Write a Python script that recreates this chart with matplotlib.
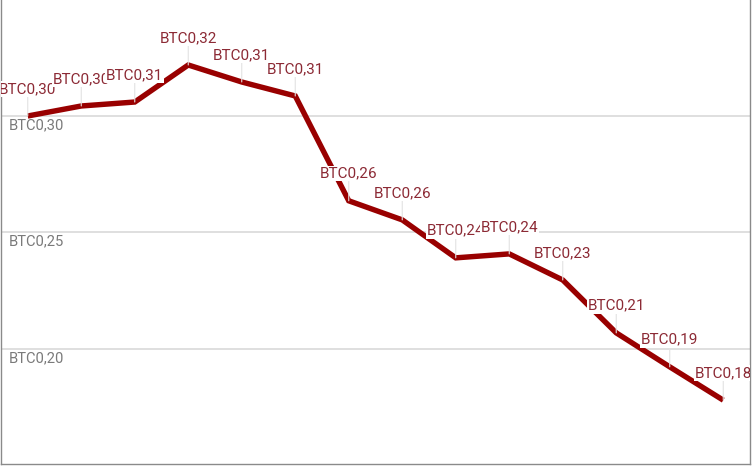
import matplotlib
matplotlib.use("Agg")
import matplotlib.pyplot as plt

# values (BTC)
points = list(range(14))
btc_values = [0.300, 0.3043, 0.306, 0.3219, 0.3146, 0.3086, 0.2636,
              0.2554, 0.2391, 0.2408, 0.2296, 0.2069, 0.1923, 0.178]
y_ticks = [0.20, 0.25, 0.30]


def btc_fmt(v):
    return "BTC" + f"{v:.2f}".replace(".", ",")


plt.rcParams["font.family"] = ["Roboto", "DejaVu Sans"]

fig = plt.figure(figsize=(7.54, 4.66), dpi=100)
ax = fig.add_axes([1 / 754, 2 / 466, 749 / 754, 464 / 466])

ax.plot(points, btc_values, color="#990000", lw=3.9, solid_capstyle="butt",
        solid_joinstyle="miter", zorder=3)

for x, v in zip(points, btc_values):
    ax.annotate(btc_fmt(v), xy=(x, v), xytext=(0, 19.5), textcoords="offset points",
                ha="center", va="center", fontsize=11, color="#8c2a35",
                bbox=dict(boxstyle="square,pad=0.05", fc="white", ec="none"),
                arrowprops=dict(arrowstyle="-", color="#e2e2e2", lw=0.8,
                                shrinkA=0, shrinkB=0, relpos=(0.5, 0)),
                zorder=4, annotation_clip=False, clip_on=True)

ax.set_xlim(-0.5, 13.5)
ax.set_ylim(0.1506, 0.3498)
ax.set_xticks([])
ax.set_yticks(y_ticks)
ax.set_yticklabels([])
ax.grid(axis="y", color="#dcdcdc", lw=1.3)
ax.set_axisbelow(True)
ax.tick_params(length=0)

for t in y_ticks:
    ax.text(0.01, t - 0.001, btc_fmt(t), transform=ax.get_yaxis_transform(),
            ha="left", va="top", fontsize=10.6, color="#7a7a7a", zorder=2)

ax.spines["top"].set_visible(False)
for side in ["left", "right", "bottom"]:
    ax.spines[side].set_color("#8a8a8a")
    ax.spines[side].set_linewidth(1.0)

fig.savefig("out.png", dpi=100, facecolor="white")
